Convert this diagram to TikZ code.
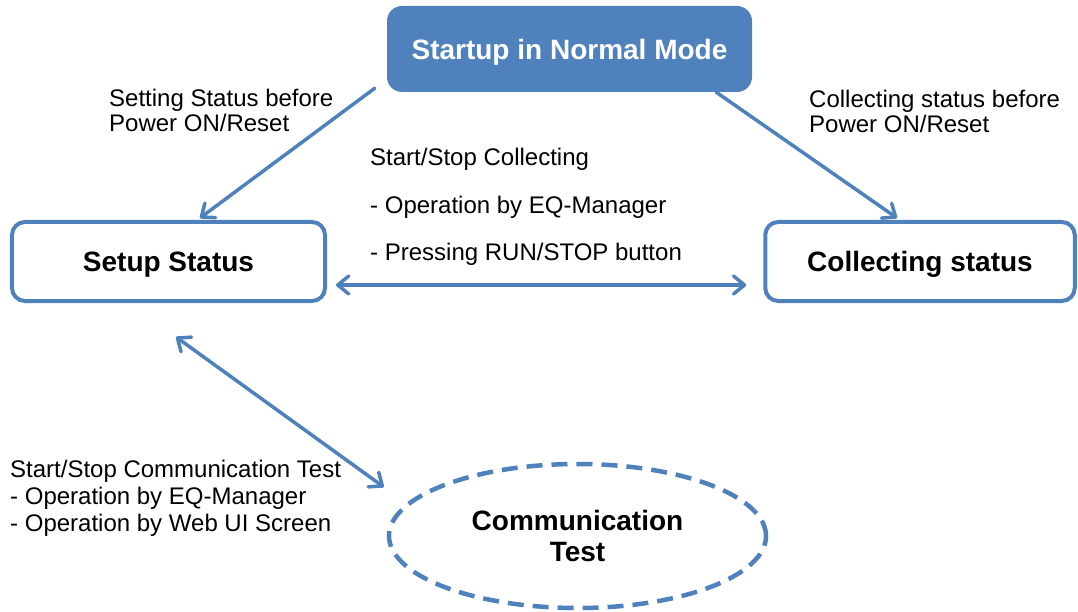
\documentclass[tikz,border=0pt]{standalone}
\usepackage{fontspec}
\setmainfont{Liberation Sans}
\usetikzlibrary{arrows.meta,shapes.geometric,calc}
\definecolor{ablue}{RGB}{79,129,189}
\tikzset{
  lbl/.style={anchor=base west,inner sep=0pt,font=\fontsize{24bp}{27bp}\selectfont,text=black},
  ttl/.style={font=\bfseries\fontsize{28bp}{32bp}\selectfont},
  statebox/.style={draw=ablue,line width=4bp,rounded corners=13bp,fill=white,ttl,inner sep=0pt,text depth=0pt},
  conn/.style={draw=ablue,line width=3.5bp,line cap=round},
  tip/.style={-{Straight Barb[length=11bp,width=18bp,round]}},
  tips/.style={{Straight Barb[length=11bp,width=18bp,round]}-{Straight Barb[length=11bp,width=18bp,round]}}
}
\begin{document}
\begin{tikzpicture}[x=1bp,y=-1bp]
\useasboundingbox (0,0) rectangle (1078,612);
% nodes
\node[fill=ablue,rounded corners=15bp,minimum width=365bp,minimum height=86bp,inner sep=0pt,ttl,text=white,text depth=0pt] (startup) at (569.5,49) {Startup in Normal Mode};
\node[statebox,minimum width=313bp,minimum height=79bp] (setup) at (168.5,261.5) {Setup Status};
\node[statebox,minimum width=309.5bp,minimum height=79bp] (collect) at (920,261.5) {Collecting status};
\node[ellipse,draw=ablue,line width=4.5bp,dash pattern=on 16bp off 9bp,minimum width=377bp,minimum height=144bp,inner sep=0pt,ttl,align=center] (comm) at (577.5,536) {Communication\\[-1bp]Test};
% labels
\node[lbl] (set1) at (109,107) {Setting Status before};
\node[lbl] (set2) at (109,132) {Power ON/Reset};
\node[lbl] (col1) at (809,108) {Collecting status before};
\node[lbl] (col2) at (809,133) {Power ON/Reset};
\node[lbl] (ss1) at (370,166) {Start/Stop Collecting};
\node[lbl] (ss2) at (370,214) {- Operation by EQ-Manager};
\node[lbl] (ss3) at (370,261) {- Pressing RUN/STOP button};
\node[lbl] (ct1) at (10,477) {Start/Stop Communication Test};
\node[lbl] (ct2) at (10,504) {- Operation by EQ-Manager};
\node[lbl] (ct3) at (10,531) {- Operation by Web UI Screen};
% connectors
\draw[conn,tip] ($(startup.south west)+(-12,-4)$) -- ($(setup.north)+(31.5,-2)$);
\draw[conn,tip] ($(startup.south east)+(-36,0)$) -- ($(collect.north)+(-23,-2)$);
\draw[conn,tips] ($(setup.east)+(9,23.5)$) -- ($(collect.west)+(-17,23.5)$);
\draw[conn,tips] ($(setup.south)+(7.5,34)$) -- ($(comm.west)+(-3,-49)$);
\end{tikzpicture}
\end{document}
